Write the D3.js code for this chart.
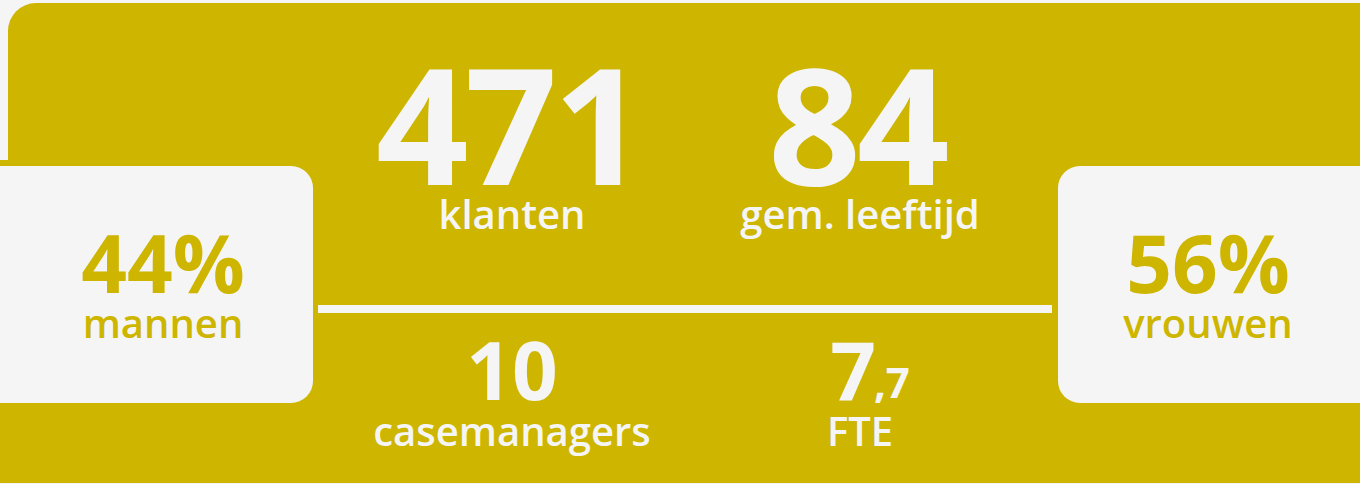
<!DOCTYPE html>
<html>
<head>
<meta charset="utf-8">
<script src="https://cdn.jsdelivr.net/npm/d3@7"></script>
<style>
  body { margin: 0; background: #f5f5f5; }
  text { font-family: "Open Sans", sans-serif; }
</style>
</head>
<body>
<div id="chart"></div>
<script>
// kerncijfers
var topValues = ["471", "84"];
var topLabels = ["klanten", "gem. leeftijd"];
var bottomValues = ["10", "7"];
var bottomDecimals = ["", ",7"];
var bottomLabels = ["casemanagers", "FTE"];
var genderValues = ["44%", "56%"];
var genderLabels = ["mannen", "vrouwen"];

var width = 1360;
var height = 484;
var gold = "#cdb500";
var light = "#f5f5f5";

var svg = d3.select('#chart')
  .append('svg')
  .attr('width', width)
  .attr('height', height);

// column positions
var x = d3.scalePoint()
  .domain(d3.range(topValues.length))
  .range([512, 860]);
var xg = d3.scalePoint()
  .domain(d3.range(genderValues.length))
  .range([163, 1208]);

// gold background
svg.append('rect')
  .attr('x', 8).attr('y', 3)
  .attr('width', width + 30).attr('height', 480)
  .attr('rx', 28)
  .attr('fill', gold);
svg.append('rect')
  .attr('x', 0).attr('y', 160)
  .attr('width', width).attr('height', 323)
  .attr('fill', gold);

// side boxes
svg.append('rect')
  .attr('x', -30).attr('y', 166)
  .attr('width', 343).attr('height', 237)
  .attr('rx', 22)
  .attr('fill', light);
svg.append('rect')
  .attr('x', 1058).attr('y', 166)
  .attr('width', 340).attr('height', 237)
  .attr('rx', 22)
  .attr('fill', light);

// divider
svg.append('rect')
  .attr('x', 318).attr('y', 305)
  .attr('width', 734).attr('height', 8)
  .attr('fill', light);

// top row
svg.selectAll('.topval')
  .data(topValues)
  .enter()
  .append('text')
  .attr('class', 'topval')
  .attr('x', function (d, i) { return x(i) - 3; })
  .attr('y', 185)
  .attr('text-anchor', 'middle')
  .style('font-size', '162px')
  .style('font-weight', 700)
  .style('letter-spacing', '-4px')
  .attr('fill', light)
  .text(function (d) { return d; });

svg.selectAll('.toplab')
  .data(topLabels)
  .enter()
  .append('text')
  .attr('class', 'toplab')
  .attr('x', function (d, i) { return x(i); })
  .attr('y', 229)
  .attr('text-anchor', 'middle')
  .style('font-size', '40px')
  .style('font-weight', 600)
  .attr('fill', light)
  .text(function (d) { return d; });

// bottom row
var bv = svg.selectAll('.botval')
  .data(bottomValues)
  .enter()
  .append('text')
  .attr('class', 'botval')
  .attr('x', function (d, i) { return x(i) + (bottomDecimals[i] ? 10 : 0); })
  .attr('y', 400)
  .attr('text-anchor', 'middle')
  .attr('fill', light);
bv.append('tspan')
  .style('font-size', '80px')
  .style('font-weight', 700)
  .text(function (d) { return d; });
bv.append('tspan')
  .attr('dx', -2)
  .attr('dy', -2)
  .style('font-size', '42px')
  .style('font-weight', 700)
  .text(function (d, i) { return bottomDecimals[i]; });

svg.selectAll('.botlab')
  .data(bottomLabels)
  .enter()
  .append('text')
  .attr('class', 'botlab')
  .attr('x', function (d, i) { return x(i); })
  .attr('y', 446)
  .attr('text-anchor', 'middle')
  .style('font-size', '40px')
  .style('font-weight', 600)
  .attr('fill', light)
  .text(function (d) { return d; });

// gender boxes
svg.selectAll('.gval')
  .data(genderValues)
  .enter()
  .append('text')
  .attr('class', 'gval')
  .attr('x', function (d, i) { return xg(i); })
  .attr('y', 293)
  .attr('text-anchor', 'middle')
  .style('font-size', '80px')
  .style('font-weight', 700)
  .attr('fill', gold)
  .text(function (d) { return d; });

svg.selectAll('.glab')
  .data(genderLabels)
  .enter()
  .append('text')
  .attr('class', 'glab')
  .attr('x', function (d, i) { return xg(i); })
  .attr('y', 338)
  .attr('text-anchor', 'middle')
  .style('font-size', '40px')
  .style('font-weight', 600)
  .attr('fill', gold)
  .text(function (d) { return d; });
</script>
</body>
</html>
